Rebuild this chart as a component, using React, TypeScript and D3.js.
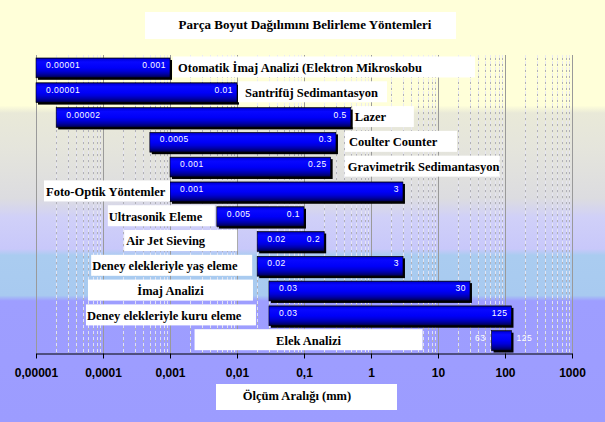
import React, { useRef, useEffect } from "react";
import { select, scaleLog, scaleBand, axisBottom } from "d3";

// methods, top to bottom
const methods = [
  "Otomatik İmaj Analizi (Elektron Mikroskobu",
  "Santrifüj Sedimantasyon",
  "Lazer",
  "Coulter Counter",
  "Gravimetrik Sedimantasyon",
  "Foto-Optik Yöntemler",
  "Ultrasonik Eleme",
  "Air Jet Sieving",
  "Deney elekleriyle yaş eleme",
  "İmaj Analizi",
  "Deney elekleriyle kuru eleme",
  "Elek Analizi",
];

// measuring range in mm
const rangeMin = [0.00001, 0.00001, 0.00002, 0.0005, 0.001, 0.001, 0.005, 0.02, 0.02, 0.03, 0.03, 63];
const rangeMax = [0.001, 0.01, 0.5, 0.3, 0.25, 3, 0.1, 0.2, 3, 30, 125, 125];

const tickValues = [0.00001, 0.0001, 0.001, 0.01, 0.1, 1, 10, 100, 1000];
const tickLabels = ["0,00001", "0,0001", "0,001", "0,01", "0,1", "1", "10", "100", "1000"];

const chartTitle = "Parça Boyut Dağılımını Belirleme Yöntemleri";
const axisTitle = "Ölçüm Aralığı (mm)";

// where each text box sits next to its bar
const labelLayout = [
  { side: "right", gap: 3, width: 302, align: "start", pad: 5 },
  { side: "right", gap: 1, width: 149, align: "start", pad: 7 },
  { side: "right", gap: 2, width: 61, align: "start", pad: 2 },
  { side: "right", gap: 9, width: 112, align: "start", pad: 4 },
  { side: "right", gap: 14, width: 155, align: "start", pad: 3 },
  { side: "left", gap: 0, width: 126, align: "start", pad: 2 },
  { side: "left", gap: 2, width: 107, align: "start", pad: 1 },
  { side: "left", gap: 20, width: 113, align: "start", pad: 2 },
  { side: "left", gap: 5, width: 161, align: "start", pad: 1 },
  { side: "left", gap: 16, width: 165, align: "middle", pad: 0 },
  { side: "left", gap: 13, width: 170, align: "start", pad: 1 },
  { side: "left", gap: 69, width: 228, align: "middle", pad: 0 },
];

const W = 605;
const H = 422;
const plotTop = 55;
const plotBottom = 353;
const serif = "'Liberation Serif', 'DejaVu Serif', serif";
const sans = "'Liberation Sans', Arial, sans-serif";

function App() {
  const svgRef = useRef<SVGSVGElement>(null);

  useEffect(() => {
    const svg = select(svgRef.current);
    svg.selectAll("*").remove();

    const x = scaleLog().domain([0.00001, 1000]).range([36, 572]);
    const y = scaleBand<number>()
      .domain(methods.map((m, i) => i))
      .range([plotTop + 0.5, plotBottom])
      .paddingInner(0.2)
      .paddingOuter(0.1);

    const defs = svg.append("defs");
    const bg = defs.append("linearGradient")
      .attr("id", "bg")
      .attr("gradientUnits", "userSpaceOnUse")
      .attr("x1", 0).attr("x2", 0).attr("y1", 0).attr("y2", H);
    [
      [0, "#FFFFD9"], [0.25, "#FFFFD9"], [0.268, "#E9E9D8"], [0.35, "#E5E5DC"],
      [0.47, "#DCDCE0"], [0.515, "#D0D0F8"], [0.59, "#C8C8FA"], [0.605, "#AACCF0"],
      [0.70, "#A8CAF0"], [0.713, "#9E9EFF"], [1, "#9C9CFF"],
    ].forEach(([o, c]) => bg.append("stop").attr("offset", o).attr("stop-color", c));

    const barGrad = defs.append("linearGradient")
      .attr("id", "bar")
      .attr("x1", 0).attr("x2", 0).attr("y1", 0).attr("y2", 1);
    [
      [0, "#000060"], [0.07, "#0000E0"], [0.2, "#0808FF"], [0.5, "#0000F8"],
      [0.66, "#0000D8"], [0.8, "#0000A8"], [0.92, "#000070"], [1, "#000030"],
    ].forEach(([o, c]) => barGrad.append("stop").attr("offset", o).attr("stop-color", c));

    svg.append("rect").attr("width", W).attr("height", H).attr("fill", "url(#bg)");

    // minor gridlines
    const minors: number[] = [];
    tickValues.slice(0, -1).forEach((d) => {
      for (let k = 2; k <= 9; k++) minors.push(k * d);
    });
    svg.append("g")
      .selectAll("line")
      .data(minors)
      .join("line")
      .attr("x1", (d) => Math.round(x(d)) + 0.5)
      .attr("x2", (d) => Math.round(x(d)) + 0.5)
      .attr("y1", plotTop)
      .attr("y2", plotBottom)
      .attr("stroke", "#e8e8f4")
      .attr("stroke-width", 1)
      .attr("stroke-dasharray", "4,2")
      .attr("opacity", 0.9);
    svg.append("g")
      .selectAll("line")
      .data(minors)
      .join("line")
      .attr("x1", (d) => Math.round(x(d)) + 0.5)
      .attr("x2", (d) => Math.round(x(d)) + 0.5)
      .attr("y1", plotTop + 3)
      .attr("y2", plotBottom)
      .attr("stroke", "#b0b0b8")
      .attr("stroke-width", 1)
      .attr("stroke-dasharray", "2,4");

    // major gridlines
    svg.append("g")
      .selectAll("line")
      .data(tickValues)
      .join("line")
      .attr("x1", (d) => Math.round(x(d)) + 0.5)
      .attr("x2", (d) => Math.round(x(d)) + 0.5)
      .attr("y1", plotTop)
      .attr("y2", plotBottom)
      .attr("stroke", "#9a9a9a")
      .attr("stroke-width", 1);

    // x axis
    const axis = svg.append("g")
      .attr("transform", `translate(0,${plotBottom + 0.5})`)
      .call(
        axisBottom(x)
          .tickValues(tickValues)
          .tickFormat((d, i) => tickLabels[i])
          .tickSize(5)
          .tickSizeOuter(0)
          .tickPadding(10)
      );
    axis.select(".domain").attr("stroke", "#000");
    axis.selectAll(".tick line").attr("stroke", "#000");
    axis.selectAll(".tick text")
      .attr("fill", "#000")
      .attr("font-family", sans)
      .attr("font-weight", "bold")
      .attr("font-size", 12);

    // bars
    const bars = svg.append("g")
      .selectAll("g")
      .data(methods.map((m, i) => i))
      .join("g");
    bars.append("rect")
      .attr("x", (i) => x(rangeMin[i]) + 2)
      .attr("y", (i) => (y(i) as number) + 2)
      .attr("width", (i) => x(rangeMax[i]) - x(rangeMin[i]))
      .attr("height", y.bandwidth())
      .attr("fill", "#000");
    bars.append("rect")
      .attr("x", (i) => x(rangeMin[i]))
      .attr("y", (i) => y(i) as number)
      .attr("width", (i) => x(rangeMax[i]) - x(rangeMin[i]))
      .attr("height", y.bandwidth())
      .attr("fill", "url(#bar)")
      .attr("stroke", "#000")
      .attr("stroke-width", 0.6);

    bars.append("text")
      .attr("x", (i) => (i === 11 ? x(rangeMin[i]) - 6 : x(rangeMin[i]) + 10))
      .attr("y", (i) => (y(i) as number) + 10)
      .attr("text-anchor", (i) => (i === 11 ? "end" : "start"))
      .attr("fill", "#fff")
      .attr("font-family", sans)
      .attr("font-size", 8.5)
      .attr("letter-spacing", 0.5)
      .text((i) => String(rangeMin[i]));
    bars.append("text")
      .attr("x", (i) => (i === 11 ? x(rangeMax[i]) + 5 : x(rangeMax[i]) - 4))
      .attr("y", (i) => (y(i) as number) + 10)
      .attr("text-anchor", (i) => (i === 11 ? "start" : "end"))
      .attr("fill", "#fff")
      .attr("font-family", sans)
      .attr("font-size", 8.5)
      .attr("letter-spacing", 0.5)
      .text((i) => String(rangeMax[i]));

    // method labels in white boxes
    const labels = svg.append("g")
      .selectAll("g")
      .data(methods.map((m, i) => i))
      .join("g");
    const boxX = (i: number) => {
      const l = labelLayout[i];
      return l.side === "right"
        ? x(rangeMax[i]) + l.gap
        : x(rangeMin[i]) - l.gap - l.width;
    };
    labels.append("rect")
      .attr("x", (i) => boxX(i))
      .attr("y", (i) => (y(i) as number) - 1.5)
      .attr("width", (i) => labelLayout[i].width)
      .attr("height", 21)
      .attr("fill", "#fff");
    labels.append("text")
      .attr("x", (i) =>
        labelLayout[i].align === "middle"
          ? boxX(i) + labelLayout[i].width / 2
          : boxX(i) + labelLayout[i].pad
      )
      .attr("y", (i) => (y(i) as number) + y.bandwidth() / 2 + 4)
      .attr("text-anchor", (i) => labelLayout[i].align)
      .attr("font-family", serif)
      .attr("font-weight", "bold")
      .attr("font-size", 12.5)
      .attr("fill", "#000")
      .text((i) => methods[i]);

    // chart title
    svg.append("rect").attr("x", 145).attr("y", 12).attr("width", 311).attr("height", 27).attr("fill", "#fff");
    svg.append("text")
      .attr("x", 305)
      .attr("y", 29)
      .attr("text-anchor", "middle")
      .attr("font-family", serif)
      .attr("font-weight", "bold")
      .attr("font-size", 13)
      .text(chartTitle);

    // axis title
    svg.append("rect").attr("x", 216).attr("y", 384).attr("width", 181).attr("height", 26).attr("fill", "#fff");
    svg.append("text")
      .attr("x", 297)
      .attr("y", 400)
      .attr("text-anchor", "middle")
      .attr("font-family", serif)
      .attr("font-weight", "bold")
      .attr("font-size", 12.5)
      .text(axisTitle);
  }, []);

  return (
    <svg
      ref={svgRef}
      width={W}
      height={H}
      style={{ position: "absolute", left: 0, top: 0, display: "block" }}
    ></svg>
  );
}

export default App;
